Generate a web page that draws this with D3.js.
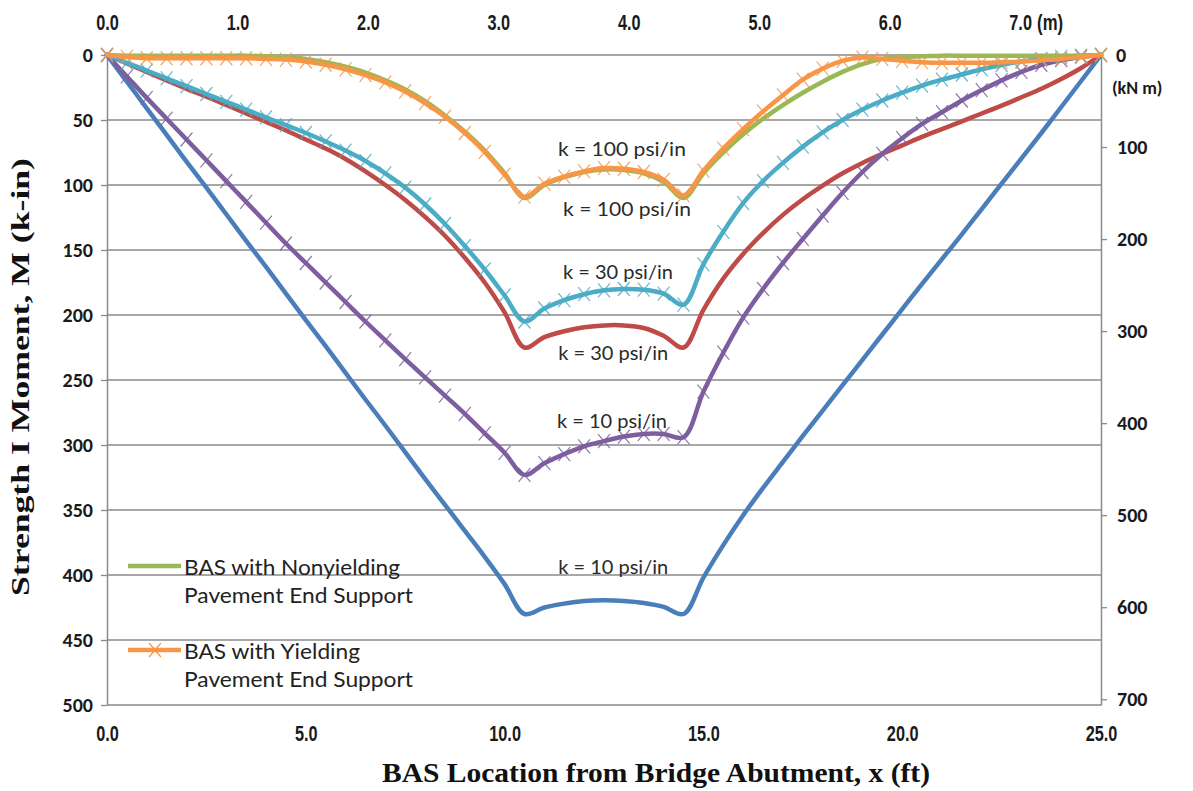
<!DOCTYPE html>
<html><head><meta charset="utf-8">
<script src="https://cdn.jsdelivr.net/npm/d3@7"></script>
<style>body{margin:0;background:#fff}</style>
</head><body><svg id="c" width="1193" height="791"></svg>
<script>
// ---- data (x in ft, moment in k-in) ----
const xFt = [0,0.5,1,1.5,2,2.5,3,3.5,4,4.5,5,5.5,6,6.5,7,7.5,8,8.5,9,9.5,10,10.5,
  11,11.5,12,12.5,13,13.5,14,14.5,
  15,15.5,16,16.5,17,17.5,18,18.5,19,19.5,20,20.5,21,21.5,22,22.5,23,23.5,24,24.5,25];
// k = 10 psi/in
const nonyield10 = [0,20.5,41,61.5,82,102,122.5,143,163,183.5,204,224,244.5,265,285,305.5,326,346,366,386,407,430,
  425,422,420,419.5,420,421.5,424.5,430,
  402,377,354,333,313,293,273.5,254,234.5,215,195.5,176,157,138,118.5,99,79.5,60,40,20,0];
const yield10 = [0,16.5,33,49,65,81,97,113,129,145,160,175,190,205,219.5,234,248,262,276,291,306,323,
  314,307,301,297,293.5,291.5,291.5,294,
  259,229,202,180,160,141.5,123.5,106,90,76,64,53,44,35,27,19.5,13,7.5,4,1.5,0];
// k = 30 psi/in
const nonyield30 = [0,6.5,13,19.5,26,32,38.5,45,51.5,58,65,72,80,89.5,100,111.5,124.5,139,156,175,198,225,
  217,212.5,209.5,208,208,210,216,225,
  196,172,153,137,123,111,100.5,91,83,76,69.5,63,57,51,45,39,32.5,26,18.5,10,0];
const yield30 = [0,6,12,18,24,30,36,42,48,54,60,66.5,73.5,81.5,91,102,115,130,147,165,185,205,
  195,188.5,184,181,180,180.5,183.5,192,
  161,136,114,97,83,70.5,59.5,50,42,35,29,23.5,19,15,11,7.7,5,3,1.5,0.5,0];
// k = 100 psi/in
const nonyield100 = [0,0.5,0.5,0.5,0.5,0.5,0.5,0.5,1,1.5,3,5.5,9,13.5,19.5,26.5,35.5,46.5,59,73.5,91,110,
  100,94,90,88,88.5,91,97.5,110,
  91,75,61,49,38.5,29,20.5,13,7,3,1.5,1,0.5,0.5,0.5,0.5,0.5,0.5,0.5,0.5,0];
const yield100 = [0,1.5,2.5,2.5,2.5,2.5,2.5,2.5,3,3.5,5,7.5,11,15.5,21,28,37,47.5,60,74.5,92,109,
  99,93.5,89.5,87,87.5,90,96,108,
  89,72,57,43.5,31,19,10.5,4.5,2,3,4.5,5.5,6,6,6,5.5,5,4,3,1.5,0];

const leftTicks = [0,50,100,150,200,250,300,350,400,450,500];
const rightTicks = [0,100,200,300,400,500,600,700];
const bottomTicks = [0,5,10,15,20,25];
const topTicks = [0,1,2,3,4,5,6,7];
const legendLabels = [["BAS with Nonyielding","Pavement End Support"],["BAS with Yielding","Pavement End Support"]];
const kLabels = ["k = 100 psi/in","k = 100 psi/in","k = 30 psi/in","k = 30 psi/in","k = 10 psi/in","k = 10 psi/in"];
const kAnchorX = [12.95,13.08,12.85,12.73,12.7,12.73];
const kAnchorM = [71.5,117.7,166,228.5,281,393];

// ---- chart ----
const svg = d3.select("#c");
svg.append("rect").attr("width",1193).attr("height",791).attr("fill","#fff");
const x = d3.scaleLinear().domain([0,25]).range([107,1101]);
const y = d3.scaleLinear().domain([0,500]).range([55,705]);
const ftPerM = 3.2808;
const xm = d3.scaleLinear().domain([0,25/ftPerM]).range([x(0),x(25)]);
const kinToR = 1.4125;
const yR = d3.scaleLinear().domain([0,500*kinToR]).range([55,705]);
const grid = "#8a8a8a";
const squeeze = (sel,f)=>sel.each(function(){const w=this.getComputedTextLength();
  d3.select(this).attr("textLength",w*f).attr("lengthAdjust","spacingAndGlyphs");});

// gridlines
svg.append("g").selectAll("line").data(leftTicks).join("line")
  .attr("x1",x(0)).attr("x2",x(25)).attr("y1",d=>y(d)).attr("y2",d=>y(d))
  .attr("stroke",grid).attr("stroke-width",1.3);

const tickFont = "Carlito, Lato, 'Open Sans', sans-serif";
const sansBold = "'Liberation Sans', Arial, sans-serif";

// left axis
const gL = svg.append("g").attr("transform",`translate(${x(0)},0)`)
  .call(d3.axisLeft(y).tickValues(leftTicks).tickSize(6).tickSizeOuter(0).tickPadding(8));
// right axis
const gR = svg.append("g").attr("transform",`translate(${x(25)},0)`)
  .call(d3.axisRight(yR).tickValues(rightTicks).tickSize(6).tickSizeOuter(0).tickPadding(10));
[gL,gR].forEach(g=>{
  g.select(".domain").attr("stroke",grid).attr("stroke-width",1.5);
  g.selectAll(".tick line").attr("stroke",grid).attr("stroke-width",1.3);
  g.selectAll("text").attr("font-family",tickFont).attr("font-weight","bold").attr("font-size",20).attr("fill","#1a1a1a");
});
gR.selectAll(".tick").filter(d=>d===0).select("line").remove();
gR.selectAll(".tick").filter(d=>d===0).select("text").attr("x",15);

// bottom axis
const gB = svg.append("g").attr("transform",`translate(0,${y(500)})`)
  .call(d3.axisBottom(x).tickValues(bottomTicks).tickSize(0).tickPadding(20).tickFormat(d3.format(".1f")));
// top axis
const gT = svg.append("g").attr("transform",`translate(0,${y(0)})`)
  .call(d3.axisTop(xm).tickValues(topTicks).tickSize(0).tickPadding(25).tickFormat(d3.format(".1f")));
[gB,gT].forEach(g=>{
  g.select(".domain").remove();
  g.selectAll("text").attr("font-family",sansBold).attr("font-weight","bold").attr("font-size",22).attr("fill","#1a1a1a");
  squeeze(g.selectAll("text"),0.74);
});
const mLab = svg.append("text").attr("x",xm(7)+17).attr("y",y(0)-25).text("(m)")
  .attr("font-family",sansBold).attr("font-weight","bold").attr("font-size",22).attr("fill","#1a1a1a");
squeeze(mLab,0.76);
svg.append("text").attr("x",x(25)+11).attr("y",94).text("(kN m)")
  .attr("font-family",tickFont).attr("font-weight","bold").attr("font-size",18).attr("fill","#1a1a1a");

// axis titles
svg.append("text").attr("transform",`translate(29,${y(250)-3}) rotate(-90)`)
  .attr("text-anchor","middle").text("Strength I Moment, M (k-in)")
  .attr("font-family","'Liberation Serif','Times New Roman',serif").attr("font-weight","bold")
  .attr("font-size",25).attr("textLength",438).attr("lengthAdjust","spacingAndGlyphs").attr("fill","#111");
svg.append("text").attr("x",656).attr("y",782).attr("text-anchor","middle")
  .text("BAS Location from Bridge Abutment, x (ft)")
  .attr("font-family","'Liberation Serif','Times New Roman',serif").attr("font-weight","bold")
  .attr("font-size",27).attr("textLength",548).attr("lengthAdjust","spacingAndGlyphs").attr("fill","#111");

// series
const series = [
  {vals:nonyield10, color:"#4a7ebb", marks:false},
  {vals:nonyield30, color:"#be4b48", marks:false},
  {vals:yield10, color:"#7d5fa0", marks:true},
  {vals:yield30, color:"#4bacc6", marks:true},
  {vals:nonyield100, color:"#98b954", marks:false},
  {vals:yield100, color:"#f79646", marks:true}
];
const line = d3.line().x((d,i)=>x(xFt[i])).y(d=>y(d)).curve(d3.curveCatmullRom.alpha(0.5));
const xMark = (cx,cy,s)=>`M${cx-s*0.85},${cy-s}L${cx+s*0.85},${cy+s}M${cx-s*0.85},${cy+s}L${cx+s*0.85},${cy-s}`;
series.forEach(s=>{
  svg.append("path").attr("d",line(s.vals)).attr("fill","none").attr("stroke",s.color)
    .attr("stroke-width",4.5).attr("stroke-linejoin","round").attr("stroke-linecap","round");
  if(s.marks){
    svg.append("g").selectAll("path").data(s.vals).join("path")
      .attr("d",(d,i)=>xMark(x(xFt[i]),y(d),7))
      .attr("stroke",s.color).attr("stroke-width",1.2).attr("fill","none").attr("opacity",0.85);
  }
});

// k labels
svg.append("g").selectAll("text").data(kLabels).join("text")
  .attr("x",(d,i)=>x(kAnchorX[i])).attr("y",(d,i)=>y(kAnchorM[i]))
  .attr("text-anchor","middle").attr("dominant-baseline","central")
  .attr("font-family","Lato, 'Open Sans', sans-serif").attr("font-size",20).attr("fill","#2a2a2a")
  .attr("textLength",d=>d.length>13?128:110).attr("lengthAdjust","spacingAndGlyphs")
  .text(d=>d);

// legend
const legColors = ["#98b954","#f79646"];
const legY = [566,650];
const legW = [[216,229],[176,229]];
legendLabels.forEach((lab,i)=>{
  svg.append("line").attr("x1",128).attr("x2",181).attr("y1",legY[i]).attr("y2",legY[i])
    .attr("stroke",legColors[i]).attr("stroke-width",4.5);
  if(i===1) svg.append("path").attr("d",xMark(155,legY[i],7)).attr("stroke",legColors[i]).attr("stroke-width",1.2).attr("fill","none");
  lab.forEach((t,j)=>{
    svg.append("text").attr("x",184).attr("y",legY[i]+j*28).attr("dominant-baseline","central")
      .attr("font-family","Lato, 'Open Sans', sans-serif").attr("font-size",22).attr("fill","#222")
      .attr("textLength",legW[i][j]).attr("lengthAdjust","spacingAndGlyphs").text(t);
  });
});
</script></body></html>
